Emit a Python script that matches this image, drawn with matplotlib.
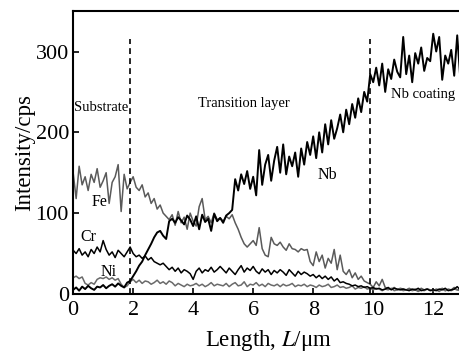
import matplotlib
matplotlib.use('Agg')
import matplotlib.pyplot as plt
import numpy as np

plt.rcParams['font.family'] = 'Liberation Serif'
plt.rcParams['mathtext.fontset'] = 'stix'

# Data (line scan, 0.1 um step)
length = np.round(np.arange(0, 13.0, 0.1), 1)

nb = [5, 8, 4, 9, 6, 10, 7, 5, 9, 8,
      11, 7, 10, 12, 9, 13, 10, 8, 14, 16,
      22, 28, 35, 40, 48, 55, 62, 70, 76, 78,
      72, 68, 90, 93, 88, 95, 91, 86, 97, 92,
      84, 96, 80, 98, 89, 93, 78, 99, 90, 94,
      88, 97, 100, 104, 142, 128, 148, 136, 152, 130,
      145, 122, 178, 135, 160, 172, 140, 165, 182, 150,
      185, 148, 170, 158, 175, 145, 180, 160, 188, 172,
      195, 168, 200, 175, 210, 185, 215, 192, 205, 222,
      200, 228, 210, 235, 218, 242, 225, 250, 238, 272,
      262, 280, 258, 285, 250, 278, 266, 290, 275, 268,
      318, 272, 295, 262, 298, 285, 305, 276, 292, 288,
      322, 300, 318, 265, 295, 285, 302, 270, 320, 268]

fe = [150, 118, 158, 135, 145, 128, 148, 138, 155, 132,
      140, 150, 112, 138, 145, 160, 102, 148, 130, 138,
      145, 132, 128, 135, 120, 125, 112, 118, 105, 110,
      100, 96, 92, 98, 85, 102, 88, 95, 80, 100,
      90, 84, 108, 118, 92, 96, 88, 100, 92, 94,
      90, 96, 93, 98, 88, 80, 70, 62, 58, 62,
      66, 60, 82, 56, 48, 46, 70, 62, 60, 64,
      58, 54, 62, 56, 55, 52, 56, 54, 55, 40,
      35, 52, 40, 48, 32, 44, 38, 55, 30, 48,
      28, 24, 30, 20, 26, 18, 22, 16, 14, 12,
      8, 15, 10, 18, 8, 7, 6, 8, 5, 7,
      6, 5, 7, 5, 6, 4, 7, 5, 6, 5,
      4, 6, 5, 7, 4, 6, 5, 8, 5, 6]

cr = [54, 50, 56, 48, 52, 46, 55, 50, 58, 52,
      66, 55, 48, 52, 45, 54, 50, 46, 52, 58,
      50, 46, 48, 44, 47, 42, 45, 40, 38, 36,
      38, 34, 30, 33, 28, 32, 26, 30, 28, 25,
      18, 28, 32, 26, 30, 28, 33, 27, 30, 34,
      30, 26, 32, 28, 24, 30, 35, 27, 32, 29,
      34, 28, 25, 31, 27, 30, 24, 29, 26, 30,
      27, 23, 30, 26, 22, 28, 24, 27, 25, 22,
      24, 20, 23, 19, 22, 18, 21, 16, 19, 14,
      15, 13, 12, 10, 11, 9, 10, 8, 9, 7,
      8, 6, 7, 5, 6, 8, 5, 7, 6, 5,
      6, 5, 4, 6, 5, 7, 4, 5, 6, 4,
      5, 4, 6, 5, 7, 4, 5, 6, 9, 5]

ni = [20, 22, 19, 21, 13, 11, 14, 12, 18, 20,
      19, 21, 18, 20, 17, 19, 12, 8, 10, 15,
      18, 14, 17, 13, 16, 15, 12, 14, 17, 13,
      15, 12, 16, 14, 10, 13, 11, 9, 12, 10,
      11, 13, 10, 12, 9, 11, 14, 10, 12, 11,
      10, 13, 9, 12, 14, 10, 11, 15, 9, 12,
      11, 14, 10, 12, 9, 13, 11, 10, 12, 9,
      12, 10, 11, 13, 9, 11, 10, 12, 9, 11,
      10, 8, 11, 9, 10, 12, 8, 9, 11, 8,
      9, 7, 8, 10, 6, 8, 7, 9, 6, 7,
      5, 7, 6, 4, 6, 5, 7, 4, 5, 6,
      4, 5, 6, 4, 5, 3, 5, 4, 6, 5,
      4, 5, 3, 6, 4, 5, 4, 6, 5, 4]

boundaries = [1.88, 9.9]

fig = plt.figure(figsize=(4.6, 3.58), dpi=100)
ax = fig.add_axes([0.159, 0.179, 0.848, 0.79])

ax.plot(length, fe, color='#5a5a5a', lw=1.1)
ax.plot(length, ni, color='#6a6a6a', lw=1.1)
ax.plot(length, cr, color='black', lw=1.1)
ax.plot(length, nb, color='black', lw=1.4)

for b in boundaries:
    ax.plot([b, b], [0, 315], color='black', lw=1.2, linestyle=(0, (3.5, 2.5)))

ax.text(0.03, 231, 'Substrate', fontsize=10.5, ha='left', va='center')
ax.text(5.7, 236, 'Transition layer', fontsize=10.5, ha='center', va='center')
ax.text(11.67, 247, 'Nb coating', fontsize=10.5, ha='center', va='center')
ax.text(8.47, 147, 'Nb', fontsize=11.5, ha='center', va='center')
ax.text(0.87, 114, 'Fe', fontsize=11.5, ha='center', va='center')
ax.text(0.5, 70, 'Cr', fontsize=11.5, ha='center', va='center')
ax.text(1.2, 27, 'Ni', fontsize=11.5, ha='center', va='center')

ax.set_xlim(0, 13.0)
ax.set_ylim(0, 350)
ax.set_xticks([0, 2, 4, 6, 8, 10, 12])
ax.set_yticks([0, 100, 200, 300])
ax.tick_params(direction='in', length=4, width=1.2, labelsize=16)
ax.tick_params(axis='x', pad=5)
ax.tick_params(axis='y', pad=3)
for s in ax.spines.values():
    s.set_linewidth(1.5)
ax.spines['right'].set_visible(False)

ax.set_xlabel('Length, $\\it{L}$/μm', fontsize=16.5, labelpad=6)
ax.set_ylabel('Intensity/cps', fontsize=16.5, labelpad=0)

plt.savefig('out.png', dpi=100)
